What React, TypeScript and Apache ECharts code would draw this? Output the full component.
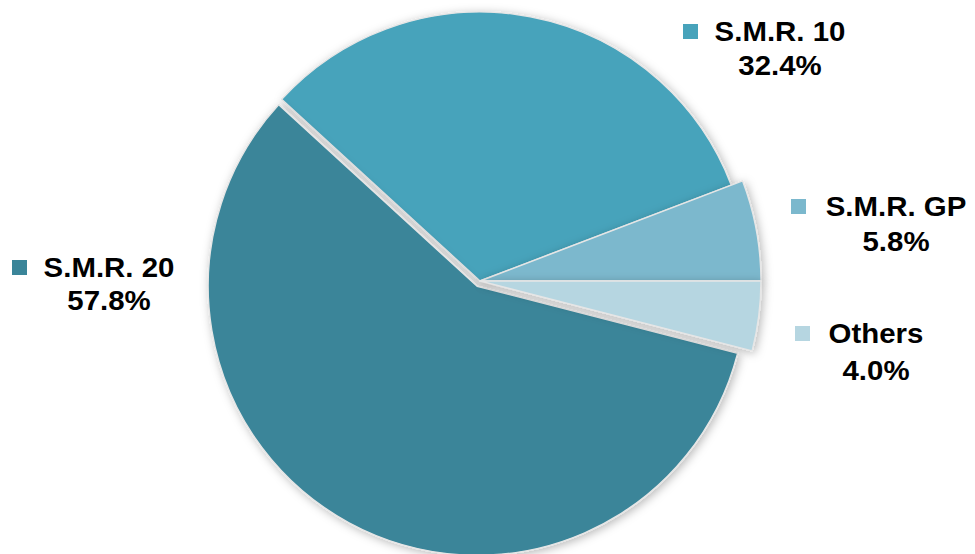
import React, { useEffect, useRef } from "react";
import * as echarts from "echarts";

const categories = ["S.M.R. GP", "S.M.R. 10", "S.M.R. 20", "Others"];
const shares = [5.8, 32.4, 57.8, 4.0];
const colors = ["#7bb8cd", "#47a3bb", "#3a8599", "#b6d6e1"];
// which ring each slice belongs to (0 = inner radius, 1 = outer radius)
const ring = [1, 0, 0, 1];
const exploded = [false, false, true, false];

// label anchor positions (text centre of line 1, line 2), marker left
const labelPos = [
  { mx: 791, tx: 896, y1: 206, y2: 241 },
  { mx: 683, tx: 780, y1: 31, y2: 65 },
  { mx: 12, tx: 109, y1: 267, y2: 300 },
  { mx: 795, tx: 876, y1: 333, y2: 370 },
];

export default function App() {
  const ref = useRef<HTMLDivElement>(null);
  useEffect(() => {
    if (!ref.current) return;
    const chart = echarts.init(ref.current, null, { renderer: "svg" });
    const font = "'Liberation Sans', Arial, sans-serif";
    const makeData = (r: number) =>
      categories.map((c, i) => {
        const visible = ring[i] === r;
        return {
          name: c,
          value: shares[i],
          selected: visible && exploded[i],
          itemStyle: visible
            ? {
                color: colors[i],
                borderColor: "#e6e6e6",
                borderWidth: 1.5,
                shadowBlur: 10,
                shadowColor: "rgba(0,0,0,0.28)",
                shadowOffsetX: 2,
                shadowOffsetY: 2,
              }
            : { color: "transparent", borderWidth: 0, shadowBlur: 0 },
        };
      });
    const baseSeries = {
      type: "pie",
      center: [480, 281],
      startAngle: 0,
      clockwise: false,
      selectedMode: "multiple",
      selectedOffset: 6,
      label: { show: false },
      labelLine: { show: false },
      emphasis: { disabled: true },
      silent: true,
    };
    const graphics: any[] = [];
    categories.forEach((c, i) => {
      const p = labelPos[i];
      graphics.push({
        type: "rect",
        shape: { x: p.mx, y: p.y1 - 7, width: 15, height: 15 },
        style: { fill: colors[i] },
      });
      graphics.push({
        type: "text",
        x: p.tx,
        y: p.y1,
        scaleX: 1.09,
        style: {
          text: c,
          font: `bold 27px ${font}`,
          fill: "#000",
          textAlign: "center",
          textVerticalAlign: "middle",
        },
      });
      graphics.push({
        type: "text",
        x: p.tx,
        y: p.y2,
        scaleX: 1.09,
        style: {
          text: shares[i].toFixed(1) + "%",
          font: `bold 27px ${font}`,
          fill: "#000",
          textAlign: "center",
          textVerticalAlign: "middle",
        },
      });
    });
    chart.setOption({
      animation: false,
      backgroundColor: "#ffffff",
      series: [
        { ...baseSeries, radius: [0, 269], data: makeData(0) },
        { ...baseSeries, radius: [0, 281], data: makeData(1) },
      ],
      graphic: graphics,
    });
    return () => chart.dispose();
  }, []);
  return (
    <div
      ref={ref}
      style={{ position: "absolute", left: 0, top: 0, width: 975, height: 554 }}
    />
  );
}
